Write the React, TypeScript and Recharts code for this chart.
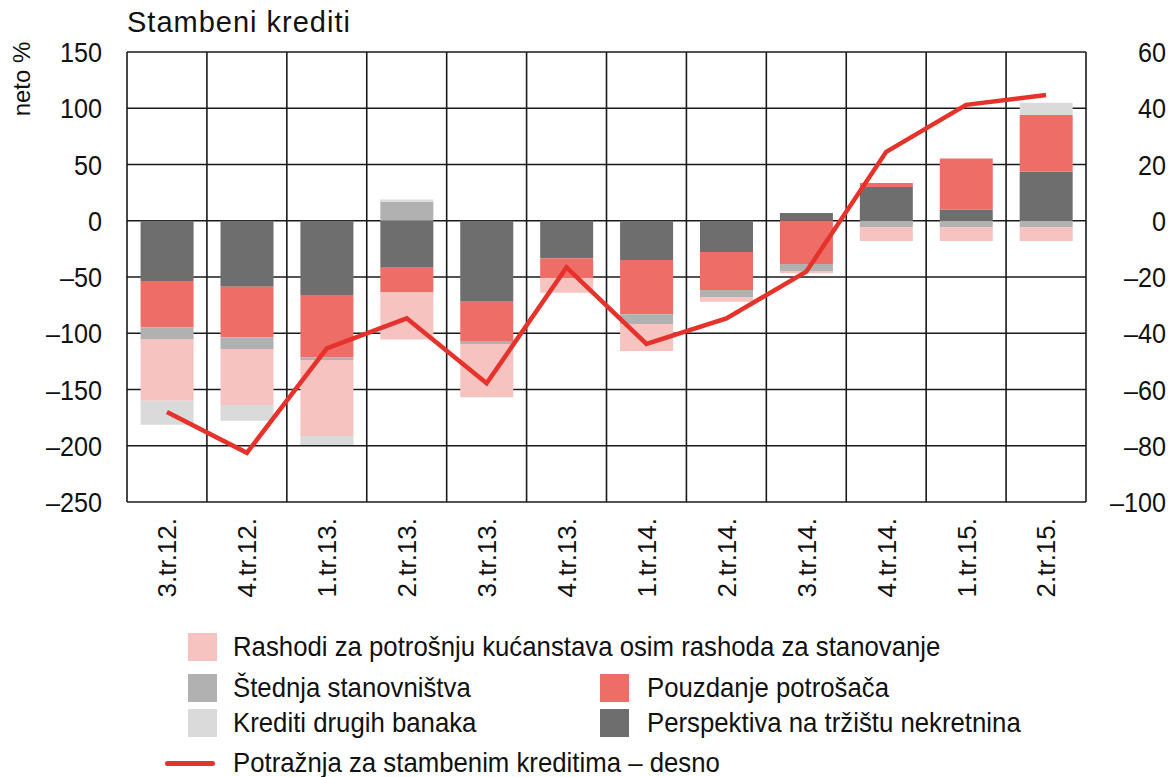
import React from "react";
import { ComposedChart, Bar, Line, XAxis, YAxis, CartesianGrid, Label } from "recharts";

// quarters on the x axis
const quarters = [
  "3.tr.12.", "4.tr.12.", "1.tr.13.", "2.tr.13.", "3.tr.13.", "4.tr.13.",
  "1.tr.14.", "2.tr.14.", "3.tr.14.", "4.tr.14.", "1.tr.15.", "2.tr.15.",
];

// stacked contributions, neto %
const perspektiva = [-53.6, -58.6, -66, -41.7, -71.9, -33.4, -34.9, -27.8, 7, 30, 10, 43.6];
const pouzdanje = [-41, -45, -55.4, -22, -35.6, -17.8, -48.3, -33.8, -38.4, 3.5, 45.3, 50.4];
const stednja = [-10.4, -10.4, -2.4, 17, -2, 0, -8.6, -6.4, -6.3, -6, -6, -6];
const rashodi = [-55, -49.8, -67.5, -41.8, -47.4, -12.7, -24, -3.9, -2, -12, -12, -12];
const krediti = [-21.4, -13.9, -8, 2, 0, 0, 0, 0, 0, 0, 0, 11];

// demand for housing loans, right axis
const potraznja = [-68, -82.5, -45.4, -34.7, -57.8, -16.6, -43.8, -34.7, -18.1, 24.5, 41.2, 44.7];

const leftTicks = [150, 100, 50, 0, -50, -100, -150, -200, -250];
const rightTicks = [60, 40, 20, 0, -20, -40, -60, -80, -100];

const C_DARK = "#6e6e6e";
const C_RED = "#ee6e67";
const C_STED = "#b1b1b1";
const C_PINK = "#f7c3c0";
const C_KRED = "#dadada";
const C_LINE = "#e5322b";

const FONT = "'Liberation Sans', Arial, sans-serif";
// the source uses a narrow Helvetica, so glyphs get squeezed a little
const NARROW = 0.9;

const data = quarters.map((q, i) => ({
  q,
  perspektiva: perspektiva[i],
  pouzdanje: pouzdanje[i],
  stednja: stednja[i],
  rashodi: rashodi[i],
  krediti: krediti[i],
  potraznja: potraznja[i],
}));

const fmt = (v: number) => (v < 0 ? "\u2013" + Math.abs(v) : String(v));

function NarrowText({ x, y, children }: any) {
  return (
    <text
      transform={`translate(${x},${y}) scale(${NARROW},1)`}
      dy="0.36em"
      textAnchor="end"
      fontSize={28}
      fontFamily={FONT}
      fill="#111"
    >
      {children}
    </text>
  );
}

function LeftTick({ x, y, payload }: any) {
  return <NarrowText x={x} y={y}>{fmt(payload.value)}</NarrowText>;
}

function RightTick({ x, y, payload }: any) {
  return <NarrowText x={x + 80} y={y}>{fmt(payload.value)}</NarrowText>;
}

function QuarterTick({ x, y, payload }: any) {
  return (
    <text
      transform={`translate(${x},${y}) rotate(-90)`}
      dy="0.36em"
      textAnchor="end"
      fontSize={26}
      fontFamily={FONT}
      fill="#111"
    >
      {payload.value}
    </text>
  );
}

const legendRows = [
  { top: 647, items: [{ x: 188, color: C_PINK, label: "Rashodi za potrošnju kućanstava osim rashoda za stanovanje" }] },
  {
    top: 688,
    items: [
      { x: 188, color: C_STED, label: "Štednja stanovništva" },
      { x: 600, color: C_RED, label: "Pouzdanje potrošača" },
    ],
  },
  {
    top: 723,
    items: [
      { x: 188, color: C_KRED, label: "Krediti drugih banaka" },
      { x: 600, color: C_DARK, label: "Perspektiva na tržištu nekretnina" },
    ],
  },
];

const legendText: React.CSSProperties = {
  fontSize: 28,
  color: "#111",
  whiteSpace: "nowrap",
  display: "inline-block",
  transform: "scaleX(0.92)",
  transformOrigin: "left center",
};

export default function App() {
  return (
    <div style={{ position: "absolute", left: 0, top: 0, width: 1172, height: 777, background: "#fff", fontFamily: FONT }}>
      <div style={{ position: "absolute", left: 127, top: 8, fontSize: 29, lineHeight: "29px", letterSpacing: 1, color: "#111" }}>
        Stambeni krediti
      </div>
      <ComposedChart
        width={1172}
        height={777}
        data={data}
        stackOffset="sign"
        barCategoryGap="17%"
        margin={{ top: 52, right: 0, bottom: 0, left: 0 }}
      >
        <CartesianGrid
          stroke="#1a1a1a"
          strokeWidth={1.6}
          verticalCoordinatesGenerator={({ offset }: any) =>
            quarters.map((_, i) => offset.left + (i * offset.width) / quarters.length).concat(offset.left + offset.width)
          }
          yAxisId="left"
        />
        <XAxis
          dataKey="q"
          height={275}
          interval={0}
          tickLine={false}
          axisLine={false}
          tickSize={0}
          tickMargin={16}
          tick={<QuarterTick />}
        />
        <YAxis
          yAxisId="left"
          domain={[-250, 150]}
          ticks={leftTicks}
          width={127}
          tickLine={false}
          axisLine={false}
          tickSize={0}
          tickMargin={25}
          tick={<LeftTick />}
        >
          <Label
            content={({ viewBox }: any) => (
              <text
                transform={`translate(${viewBox.x + 21},${viewBox.y + 27}) rotate(-90)`}
                dy="0.36em"
                textAnchor="middle"
                fontSize={24}
                fontFamily={FONT}
                fill="#111"
              >
                neto %
              </text>
            )}
          />
        </YAxis>
        <YAxis
          yAxisId="right"
          orientation="right"
          domain={[-100, 60]}
          ticks={rightTicks}
          width={86}
          tickLine={false}
          axisLine={false}
          tickSize={0}
          tickMargin={0}
          tick={<RightTick />}
        />
        <Bar yAxisId="left" dataKey="perspektiva" stackId="a" fill={C_DARK} isAnimationActive={false} />
        <Bar yAxisId="left" dataKey="pouzdanje" stackId="a" fill={C_RED} isAnimationActive={false} />
        <Bar yAxisId="left" dataKey="stednja" stackId="a" fill={C_STED} isAnimationActive={false} />
        <Bar yAxisId="left" dataKey="rashodi" stackId="a" fill={C_PINK} isAnimationActive={false} />
        <Bar yAxisId="left" dataKey="krediti" stackId="a" fill={C_KRED} isAnimationActive={false} />
        <Line
          yAxisId="right"
          type="linear"
          dataKey="potraznja"
          stroke={C_LINE}
          strokeWidth={4.5}
          dot={false}
          isAnimationActive={false}
        />
      </ComposedChart>
      {legendRows.map((row, r) =>
        row.items.map((it, k) => (
          <div
            key={`${r}-${k}`}
            style={{ position: "absolute", left: it.x, top: row.top - 15, height: 30, display: "flex", alignItems: "center" }}
          >
            <span style={{ width: 29, height: 28, background: it.color, display: "inline-block" }} />
            <span style={{ ...legendText, marginLeft: it.x === 188 ? 16 : 18 }}>{it.label}</span>
          </div>
        ))
      )}
      <div style={{ position: "absolute", left: 165, top: 763 - 15, height: 30, display: "flex", alignItems: "center" }}>
        <span style={{ width: 50, height: 5, background: C_LINE, borderRadius: 3, display: "inline-block" }} />
        <span style={{ ...legendText, marginLeft: 18 }}>Potražnja za stambenim kreditima – desno</span>
      </div>
    </div>
  );
}
